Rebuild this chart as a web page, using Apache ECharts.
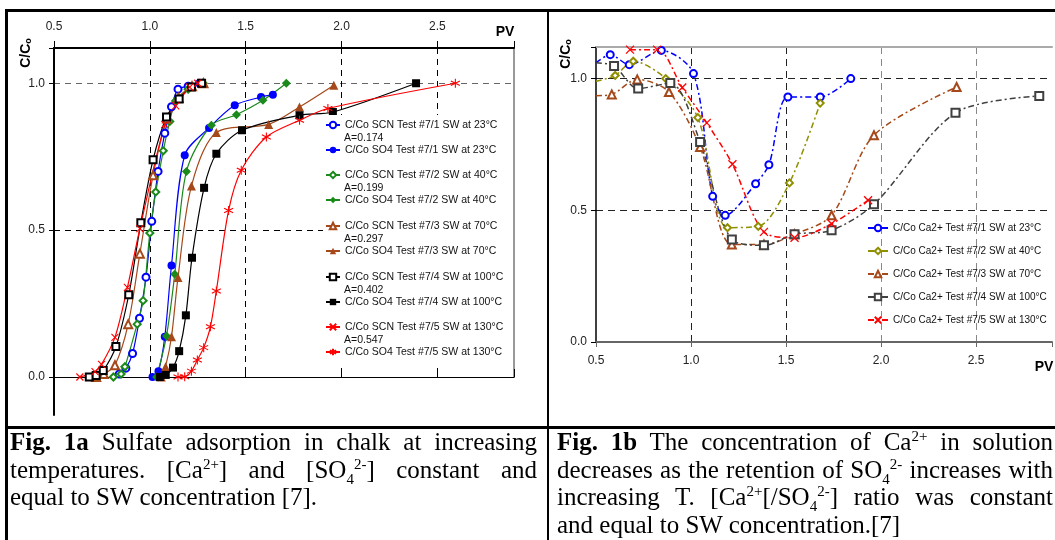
<!DOCTYPE html>
<html>
<head>
<meta charset="utf-8">
<script src="https://cdn.jsdelivr.net/npm/echarts@6/dist/echarts.min.js"></script>
<style>
html,body{margin:0;padding:0;background:#fff;}
#wrap{position:relative;width:1055px;height:540px;overflow:hidden;}
#chart{position:absolute;left:0;top:0;width:1055px;height:540px;}
.bd{position:absolute;background:#000;}
.cap{position:absolute;font-family:"Liberation Serif","Times New Roman",serif;font-size:25px;line-height:27.5px;color:#000;}
.cap div{text-align:justify;text-align-last:justify;white-space:nowrap;}
.cap div.last{text-align-last:left;}
.cap sup{font-size:0.6em;line-height:0;vertical-align:super;}
.cap sub{font-size:0.6em;line-height:0;vertical-align:sub;}
</style>
</head>
<body>
<div id="wrap">
  <div id="chart"></div>
  <div class="bd" style="left:5px;top:9px;width:1060px;height:3px"></div>
  <div class="bd" style="left:5px;top:9px;width:3px;height:540px"></div>
  <div class="bd" style="left:547px;top:9px;width:2px;height:540px"></div>
  <div class="bd" style="left:5px;top:426px;width:1060px;height:3px"></div>
  <div class="cap" style="left:10px;top:428px;width:527px">
    <div><b>Fig. 1a</b> Sulfate adsorption in chalk at increasing</div>
    <div>temperatures. [Ca<sup>2+</sup>] and [SO<sub>4</sub><sup>2-</sup>] constant and</div>
    <div class="last">equal to SW concentration [7].</div>
  </div>
  <div class="cap" style="left:557px;top:428px;width:496px">
    <div><b>Fig. 1b</b> The concentration of Ca<sup>2+</sup> in solution</div>
    <div>decreases as the retention of SO<sub>4</sub><sup>2-</sup> increases with</div>
    <div>increasing T. [Ca<sup>2+</sup>[/SO<sub>4</sub><sup>2-</sup>] ratio was constant</div>
    <div class="last">and equal to SW concentration.[7]</div>
  </div>
</div>
<script>
// Fig 1a - SCN (tracer) and SO4 breakthrough, [PV, C/Co]
var scn23 = [[0.84,0.01],[0.875,0.03],[0.91,0.08],[0.946,0.2],[0.98,0.34],[1.01,0.53],[1.043,0.70],[1.078,0.83],[1.113,0.92],[1.147,0.98],[1.2,0.99],[1.26,1.0]];
var so4_23 = [[1.014,0],[1.045,0.02],[1.078,0.137],[1.113,0.38],[1.182,0.755],[1.309,0.848],[1.443,0.925],[1.58,0.953],[1.642,0.961]];
var scn40 = [[0.81,0],[0.85,0.01],[0.87,0.035],[0.934,0.18],[0.965,0.26],[1.0,0.49],[1.031,0.63],[1.07,0.77],[1.104,0.87],[1.135,0.94],[1.2,0.98],[1.278,1.0]];
var so4_40 = [[1.035,0],[1.087,0.14],[1.13,0.35],[1.191,0.70],[1.321,0.857],[1.452,0.893],[1.59,0.942],[1.712,1.0]];
var scn70 = [[0.72,0],[0.76,0.01],[0.818,0.04],[0.887,0.18],[0.948,0.42],[1.017,0.687],[1.09,0.88],[1.15,0.95],[1.22,0.99],[1.28,1.0]];
var so4_70 = [[1.06,0],[1.082,0.035],[1.113,0.137],[1.147,0.339],[1.217,0.65],[1.347,0.832],[1.62,0.86],[1.781,0.919],[1.96,0.993]];
var scn100 = [[0.684,0],[0.72,0.005],[0.757,0.022],[0.823,0.104],[0.89,0.28],[0.953,0.525],[1.017,0.74],[1.087,0.885],[1.153,0.946],[1.217,0.987],[1.27,1.0]];
var so4_100 = [[1.052,0],[1.083,0.007],[1.121,0.032],[1.153,0.088],[1.188,0.21],[1.22,0.406],[1.283,0.644],[1.347,0.76],[1.481,0.84],[1.781,0.891],[1.955,0.902],[2.389,1.0]];
var scn130 = [[0.635,0],[0.714,0.018],[0.748,0.043],[0.818,0.135],[0.883,0.305],[0.948,0.505],[1.078,0.86],[1.135,0.923],[1.208,0.987],[1.25,1.0]];
var so4_130 = [[1.147,0],[1.182,0.001],[1.217,0.02],[1.248,0.058],[1.281,0.10],[1.316,0.171],[1.347,0.293],[1.411,0.567],[1.477,0.704],[1.608,0.817],[1.781,0.874],[1.929,0.914],[2.594,1.0]];

// Fig 1b - Ca2+ in effluent, [PV, C/Co]
var ca23 = [[0.5,1.06],[0.575,1.091],[0.675,1.053],[0.844,1.107],[1.013,1.019],[1.114,0.553],[1.18,0.481],[1.34,0.601],[1.41,0.673],[1.51,0.93],[1.68,0.93],[1.841,1.0]];
var ca40 = [[0.5,0.99],[0.601,1.012],[0.696,1.066],[0.867,1.0],[1.036,0.852],[1.192,0.434],[1.354,0.439],[1.518,0.604],[1.68,0.907]];
var ca70 = [[0.5,0.935],[0.583,0.94],[0.717,0.997],[0.884,0.949],[1.048,0.74],[1.215,0.37],[1.384,0.37],[1.545,0.409],[1.74,0.481],[1.963,0.785],[2.398,0.968]];
var ca100 = [[0.5,1.06],[0.595,1.048],[0.722,0.962],[0.891,0.983],[1.048,0.759],[1.215,0.389],[1.384,0.367],[1.545,0.409],[1.74,0.424],[1.963,0.523],[2.392,0.87],[2.833,0.934]];
var ca130 = [[0.679,1.11],[0.822,1.11],[0.954,0.966],[1.083,0.832],[1.218,0.675],[1.384,0.418],[1.545,0.396],[1.74,0.449],[1.932,0.538]];

var testNo = ['1','2','3','4','5'];
var temps = ['23','40','70','100','130'];
var aValues = ['0.174','0.199','0.297','0.402','0.547'];

var font = 'Liberation Sans, Arial, sans-serif';
var xMark = 'path://M0,0L10,10M10,0L0,10';
var starMark = 'path://M5,0L5,10M0.7,2.5L9.3,7.5M9.3,2.5L0.7,7.5';

function tickFmt(v){
	return Math.abs(v*2 - Math.round(v*2)) < 1e-6 ? v.toFixed(1) : '';
}
function scnName(i){ return 'C/Co SCN Test #7/'+testNo[i]+' SW at '+temps[i]+'°C'; }
function so4Name(i){ return 'C/Co SO4 Test #7/'+testNo[i]+' SW at '+temps[i]+'°C'; }
function caName(i){ return 'C/Co Ca2+ Test #7/'+testNo[i]+' SW at '+temps[i]+'°C'; }

function leftSeries(name, data, color, symbol, size){
	var stroke = symbol.indexOf('path://') === 0;
	return {
		name: name, type: 'line', xAxisIndex: 0, yAxisIndex: 0,
		data: data, smooth: 0.3, symbol: symbol, symbolSize: size,
		lineStyle: {color: color, width: 1.2},
		itemStyle: {color: color, borderColor: color, borderWidth: (stroke || symbol.indexOf('empty') === 0) ? 1.1 : 0},
		z: 2
	};
}
function rightSeries(name, data, color, symbol, size){
	var stroke = symbol.indexOf('path://') === 0;
	return {
		name: name, type: 'line', xAxisIndex: 2, yAxisIndex: 2,
		data: data.map(function(p){ return p[0] <= 0.5 ? {value: p, symbol: 'none'} : p; }),
		smooth: 0.3, symbol: symbol, symbolSize: size,
		lineStyle: {color: color, width: 1.5, type: [6,3,2,3]},
		itemStyle: {color: color, borderColor: color, borderWidth: stroke ? 1.3 : 1.1},
		z: 2
	};
}

var leftColors = ['#0000ff','#1a8a1a','#a5481a','#000000','#ff0000'];
var rightColors = ['#0000ff','#8f8f00','#a5481a','#404040','#ff0000'];
var scnData = [scn23, scn40, scn70, scn100, scn130];
var so4Data = [so4_23, so4_40, so4_70, so4_100, so4_130];
var caData = [ca23, ca40, ca70, ca100, ca130];
var scnSymbols = [['emptyCircle',7],['emptyDiamond',7],['emptyTriangle',8],['emptyRect',7],[xMark,7]];
var so4Symbols = [['circle',8],['diamond',9],['triangle',9],['rect',8],[starMark,9]];
var caSymbols = [['emptyCircle',7],['emptyDiamond',7],['emptyTriangle',8],['emptyRect',8],[xMark,8]];

var series = [];
for (var i = 0; i < 5; i++) {
	series.push(leftSeries(scnName(i), scnData[i], leftColors[i], scnSymbols[i][0], scnSymbols[i][1]));
	series.push(leftSeries(so4Name(i), so4Data[i], leftColors[i], so4Symbols[i][0], so4Symbols[i][1]));
}
for (var j = 0; j < 5; j++) {
	series.push(rightSeries(caName(j), caData[j], rightColors[j], caSymbols[j][0], caSymbols[j][1]));
}

// legends of Fig 1a, one per test (SCN + SO4), A= text under the SCN line
var legendTops = [119,169,220,271,321];
var legends = [];
var graphics = [
	{type:'rect', shape:{x:323, y:115, width:189, height:253}, style:{fill:'#fff'}, z:3}
];
for (var k = 0; k < 5; k++) {
	legends.push({
		data: [scnName(k), so4Name(k)], orient: 'vertical', left: 325, top: legendTops[k],
		padding: 0, itemGap: 13, itemWidth: 14, itemHeight: 8, selectedMode: false,
		textStyle: {fontSize: 10.5, fontFamily: font, color: '#111', lineHeight: 12}, z: 5
	});
	graphics.push({type:'text', x:344, y:legendTops[k]+19, z:5,
		style:{text:'A='+aValues[k], font:'10.5px '+font, fill:'#111', verticalAlign:'middle'}});
}
legends.push({
	data: [caName(0),caName(1),caName(2),caName(3),caName(4)], orient: 'vertical', left: 867, top: 222,
	padding: 0, itemGap: 11, itemWidth: 20, itemHeight: 8, selectedMode: false,
	textStyle: {fontSize: 10, fontFamily: font, color: '#111', lineHeight: 12}, z: 5
});

graphics.push(
	{type:'text', x:505, y:32, z:5, style:{text:'PV', font:'bold 14px '+font, fill:'#000', align:'center', verticalAlign:'middle'}},
	{type:'text', x:1044, y:367, z:5, style:{text:'PV', font:'bold 14px '+font, fill:'#000', align:'center', verticalAlign:'middle'}},
	{type:'text', x:26, y:53, rotation:Math.PI/2, z:5, style:{text:'{a|C/C}{b|o}', align:'center', verticalAlign:'middle',
		rich:{a:{font:'bold 14px '+font, fill:'#000'}, b:{font:'bold 9px '+font, fill:'#000', verticalAlign:'bottom', padding:[4,0,0,0]}}}},
	{type:'text', x:566, y:54, rotation:Math.PI/2, z:5, style:{text:'{a|C/C}{b|o}', align:'center', verticalAlign:'middle',
		rich:{a:{font:'bold 14px '+font, fill:'#000'}, b:{font:'bold 9px '+font, fill:'#000', verticalAlign:'bottom', padding:[4,0,0,0]}}}}
);

var labelStyle = {formatter: tickFmt, color: '#222', fontSize: 12, fontFamily: font};

var chart = echarts.init(document.getElementById('chart'));
chart.setOption({
	animation: false,
	backgroundColor: '#fff',
	grid: [
		{left: 54, top: 48, width: 460, height: 329},
		{left: 596, top: 47, width: 460, height: 295},
		{left: 54, top: 377, width: 460, height: 38}
	],
	xAxis: [
		{gridIndex:0, type:'value', position:'top', min:0.5, max:2.9, interval:0.5,
			axisLine:{onZero:false, lineStyle:{color:'#000', width:2}},
			axisTick:{length:7, lineStyle:{color:'#000'}},
			axisLabel:Object.assign({margin:15}, labelStyle),
			splitLine:{show:true, showMinLine:false, showMaxLine:false, lineStyle:{color:'#000', type:[6,5], width:1}}},
		{gridIndex:0, type:'value', position:'bottom', min:0.5, max:2.9, interval:0.5,
			axisLine:{onZero:false, lineStyle:{color:'#000', width:1}},
			axisTick:{inside:true, length:8, lineStyle:{color:'#000'}},
			axisLabel:{show:false}, splitLine:{show:false}},
		{gridIndex:1, type:'value', position:'bottom', min:0.5, max:2.9, interval:0.5,
			axisLine:{onZero:false, lineStyle:{color:'#666', width:2}},
			axisTick:{length:5, lineStyle:{color:'#666'}},
			axisLabel:Object.assign({margin:13}, labelStyle),
			splitLine:{show:true, showMinLine:false, showMaxLine:false, lineStyle:{color:['#222','#222','#888','#888'], type:[7,5], width:1}}},
		{gridIndex:1, type:'value', position:'top', min:0.5, max:2.9, interval:0.5,
			axisLine:{onZero:false, lineStyle:{color:'#aaa', width:2}},
			axisTick:{show:false}, axisLabel:{show:false}, splitLine:{show:false}},
		{gridIndex:2, type:'value', min:0, max:1, show:false}
	],
	yAxis: [
		{gridIndex:0, type:'value', min:0, max:1.12, interval:0.5,
			axisLine:{show:true, onZero:false, lineStyle:{color:'#000', width:2}},
			axisTick:{show:true, length:5, lineStyle:{color:'#000'}},
			axisLabel:Object.assign({margin:9}, labelStyle),
			splitLine:{show:true, showMinLine:false, showMaxLine:false, lineStyle:{color:['#000','#666'], type:[6,5], width:1}}},
		{gridIndex:0, type:'value', position:'right', min:0, max:1.12,
			axisLine:{show:true, onZero:false, lineStyle:{color:'#999', width:2}},
			axisTick:{show:false}, axisLabel:{show:false}, splitLine:{show:false}},
		{gridIndex:1, type:'value', min:0, max:1.12, interval:0.5,
			axisLine:{show:true, onZero:false, lineStyle:{color:'#000', width:1.5}},
			axisTick:{show:true, length:5, lineStyle:{color:'#000'}},
			axisLabel:Object.assign({margin:9}, labelStyle),
			splitLine:{show:true, showMinLine:false, showMaxLine:false, lineStyle:{color:'#222', type:[7,5], width:1}}},
		{gridIndex:2, type:'value', min:0, max:1,
			axisLine:{show:true, onZero:false, lineStyle:{color:'#000', width:2}},
			axisTick:{show:false}, axisLabel:{show:false}, splitLine:{show:false}}
	],
	legend: legends,
	graphic: graphics,
	series: series
});
</script>
</body>
</html>
